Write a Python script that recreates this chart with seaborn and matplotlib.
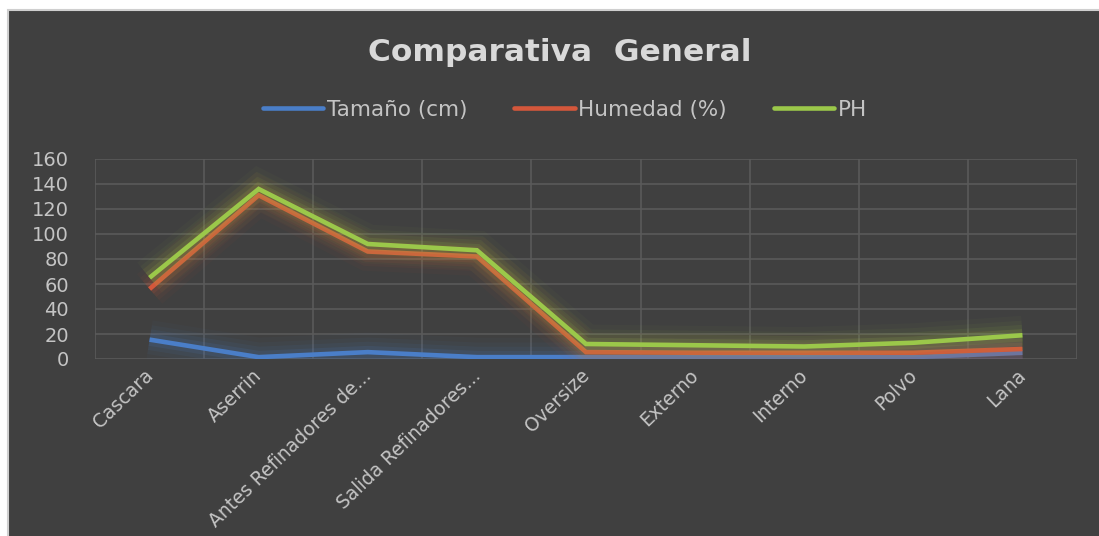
import matplotlib
matplotlib.use("Agg")
import matplotlib.pyplot as plt
import matplotlib.patheffects as pe
import matplotlib.transforms as mtransforms
from matplotlib.lines import Line2D
from matplotlib.patches import Rectangle
from matplotlib.ticker import FixedLocator, MultipleLocator
import seaborn as sns

categories = ["Cascara", "Aserrin", "Antes Refinadores de...", "Salida Refinadores...",
              "Oversize", "Externo", "Interno", "Polvo", "Lana"]
tamano = [15.5, 1.5, 5.5, 1.5, 1.5, 1.5, 1.5, 1.5, 5]
humedad = [56, 131, 86, 82, 5.5, 5, 5, 5, 8]
ph = [65, 136, 92, 87, 12, 11, 10, 13, 19]

series_names = ["Tamaño (cm)", "Humedad (%)", "PH"]
series_values = [tamano, humedad, ph]
series_colors = ["#4a7ec8", "#d4573b", "#9bc84a"]

sns.set_theme(style="dark")
plt.rcParams["font.family"] = ["DejaVu Sans"]

BG = "#404040"
TXT = "#c4c4c4"
GRID = "#5a5a5a"

fig = plt.figure(figsize=(10.99, 5.36), dpi=100, facecolor="white")
# dark chart panel with thin light border
fig.patches.append(Rectangle((8 / 1099, -0.01), 1.0, (536 - 9.5) / 536 + 0.01,
                             transform=fig.transFigure, facecolor=BG,
                             edgecolor="#cfcfcf", linewidth=1.5, zorder=-10))

ax = fig.add_axes([95 / 1099, (536 - 359) / 536, (1077 - 95) / 1099, 200 / 536])
ax.set_facecolor("none")

x = list(range(len(categories)))


def glow(color):
    return [pe.Stroke(linewidth=28, foreground=color, alpha=0.035),
            pe.Stroke(linewidth=21, foreground=color, alpha=0.05),
            pe.Stroke(linewidth=15, foreground=color, alpha=0.08),
            pe.Stroke(linewidth=9, foreground=color, alpha=0.12),
            pe.Normal()]


for name, vals, col in zip(series_names, series_values, series_colors):
    sns.lineplot(x=x, y=vals, ax=ax, color=col, linewidth=3.3,
                 legend=False, path_effects=glow(col),
                 solid_joinstyle="miter", solid_capstyle="butt")

ax.set_xlim(-0.5, len(categories) - 0.5)
ax.set_ylim(0, 160)
ax.yaxis.set_major_locator(MultipleLocator(20))
ax.set_xticks(x)
ax.set_xticklabels(categories, rotation=44, ha="right", va="top",
                   rotation_mode="anchor", color=TXT, fontsize=13.5)
ax.xaxis.set_minor_locator(FixedLocator([i - 0.5 for i in range(len(categories) + 1)]))
ax.tick_params(axis="both", which="both", length=0)
ax.tick_params(axis="y", which="major", labelcolor=TXT, labelsize=14, pad=18.7)
ax.tick_params(axis="x", which="major", pad=5)
shift = mtransforms.ScaledTranslation(-6 / 100, 0, fig.dpi_scale_trans)
for lbl in ax.get_xticklabels():
    lbl.set_transform(lbl.get_transform() + shift)
ax.grid(False)
ax.grid(axis="y", which="major", color=GRID, linewidth=1.2)
ax.grid(axis="x", which="minor", color=GRID, linewidth=1.2)
for s in ax.spines.values():
    s.set_visible(False)
ax.set_xlabel("")
ax.set_ylabel("")

fig.text(0.509, 0.902, "Comparativa  General", ha="center", va="center",
         fontsize=22.5, fontweight="bold", color="#d9d9d9")

handles = [Line2D([0], [0], color=c, linewidth=3.3) for c in series_colors]
fig.legend(handles, series_names, loc="center", bbox_to_anchor=(0.514, 0.795),
           ncol=3, frameon=False, fontsize=15.5, labelcolor=TXT,
           handlelength=2.8, handletextpad=0.15, columnspacing=2.2)

fig.savefig("out.png", dpi=100, facecolor="white")
